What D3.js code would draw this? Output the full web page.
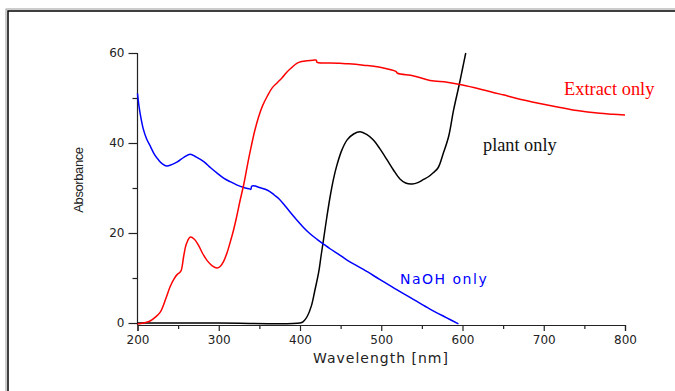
<!DOCTYPE html>
<html><head><meta charset="utf-8">
<script src="https://cdn.jsdelivr.net/npm/d3@7"></script>
<style>body{margin:0;background:#fff}svg{display:block}</style>
</head><body>
<svg id="c" width="675" height="391"></svg>
<script>
// ---- data ----
const xTicks = [200, 250, 300, 350, 400, 450, 500, 550, 600, 650, 700, 750, 800];
const yTicks = [0, 10, 20, 30, 40, 50, 60];
const yLabelTicks = [0, 20, 40, 60];

const extractNm  = [200,210,216,222,228,235,240,245,249,252,254,257,260,265,270,275,280,286,292,298,302,306,310,314,318,322,326,331,335,339,344,349,354,360,366,372,378,384,390,396,402,409,416,420,421,437,449,460,478,500,518,520,540,560,581,600,626,650,667,695,720,741,769,785,800];
const extractVal = [-0.2,0.1,0.5,1.3,2.4,5.5,8,9.8,10.8,11.2,11.8,15,17.5,19.1,18.6,17.3,15.5,13.8,12.7,12.2,12.6,13.7,15.5,17.9,20.5,23.6,27,31,34.8,38.4,42.5,45.8,48.3,50.5,52.3,53.4,54.5,55.8,56.8,57.7,58.1,58.3,58.4,58.4,57.9,57.8,57.7,57.6,57.3,56.8,55.9,55.5,54.9,53.9,53.5,52.9,51.8,50.7,49.9,48.8,47.9,47.2,46.6,46.4,46.2];

const naohNm  = [200,202,204,207,211,216,221,226,231,236,242,249,257,265,272,282,290,298,306,314,322,331,338,339.5,340.5,343,350,360,366,370,374,380,388,396,404,412,421,430,437,449,457,478,498,519,540,560,580,595];
const naohVal = [51,48,45.8,43.2,41,39.2,37.4,36.2,35.3,34.9,35.2,35.8,36.8,37.5,36.9,35.8,34.5,33.3,32.2,31.4,30.7,30.1,29.8,29.7,30.4,30.5,30.1,29.5,28.8,28.2,27.6,26.4,24.6,22.9,21.3,19.9,18.6,17.4,16.5,15.1,14.1,11.9,9.7,7.4,5.2,3.1,1.2,-0.2];

const plantNm  = [200,300,400,404,409,414,418,423,426,429,433,437,441,445,451,458,466,474,482,490,498,507,515,523,530,538,545,552,558,564,570,576,583,589,596,600,604];
const plantVal = [0,0,0,0.3,1.5,3.8,7,11.3,15,18.6,23.5,28,31.8,34.8,38.2,40.7,42,42.5,41.9,40.7,38.8,36.3,34,32,31.1,30.9,31.2,31.9,32.5,33.4,34.5,37.5,41.5,47.3,53,56.5,60];

const seriesNames = ["Extract only", "plant only", "NaOH only"];

// ---- chart ----
const svg = d3.select("#c");
const x = d3.scaleLinear().domain([200, 800]).range([137.5, 625]);
const y = d3.scaleLinear().domain([0, 60]).range([323, 53]);

// frame
svg.append("rect").attr("x", 6).attr("y", 9).attr("width", 700).attr("height", 420)
  .attr("fill", "none").attr("stroke", "#999").attr("stroke-width", 1);
svg.append("rect").attr("x", 8).attr("y", 11).attr("width", 700).attr("height", 420)
  .attr("fill", "none").attr("stroke", "#000").attr("stroke-width", 1.5);

// x axis
const xAxis = d3.axisBottom(x).tickValues(xTicks)
  .tickSize(6).tickPadding(4)
  .tickFormat(d => d % 100 === 0 ? d : "");
const gx = svg.append("g").attr("transform", "translate(0,325)").call(xAxis);
gx.select(".domain").attr("stroke", "#222").attr("stroke-width", 1.2);
gx.selectAll(".tick line").attr("stroke", "#222").attr("stroke-width", 1.2)
  .attr("y2", d => d % 100 === 0 ? 6 : 4);
gx.selectAll("text").attr("font-family", "DejaVu Sans").attr("font-size", 12)
  .attr("fill", "#222");

// y axis
const yAxis = d3.axisLeft(y).tickValues(yTicks).tickSize(8).tickPadding(5)
  .tickFormat(d => yLabelTicks.includes(d) ? d : "");
const gy = svg.append("g").attr("transform", "translate(137.5,0)").call(yAxis);
gy.select(".domain").attr("stroke", "#222").attr("stroke-width", 1.2)
  .attr("d", "M0," + y(60) + "V325");
gy.selectAll(".tick line").attr("stroke", "#222").attr("stroke-width", 1.2)
  .attr("x2", d => yLabelTicks.includes(d) ? -9 : -5);
gy.selectAll("text").attr("font-family", "DejaVu Sans").attr("font-size", 12)
  .attr("fill", "#222");

// axis titles
svg.append("text").attr("x", 381).attr("y", 363).attr("text-anchor", "middle")
  .attr("font-family", "DejaVu Sans").attr("font-size", 14).attr("letter-spacing", 1)
  .attr("fill", "#222").text("Wavelength [nm]");
svg.append("text").attr("transform", "translate(83,180) rotate(-90)")
  .attr("text-anchor", "middle").attr("font-family", "Liberation Sans")
  .attr("font-size", 13).attr("letter-spacing", -0.4).attr("fill", "#222").text("Absorbance");

// lines
const line = d3.line().x(d => x(d[0])).y(d => y(d[1])).curve(d3.curveCatmullRom.alpha(0.5));
const mk = (a, b) => a.map((v, i) => [v, b[i]]);
svg.append("path").datum(mk(plantNm, plantVal)).attr("d", line)
  .attr("fill", "none").attr("stroke", "#000").attr("stroke-width", 1.5);
svg.append("path").datum(mk(naohNm, naohVal)).attr("d", line)
  .attr("fill", "none").attr("stroke", "#0000ff").attr("stroke-width", 1.5);
svg.append("path").datum(mk(extractNm, extractVal)).attr("d", line)
  .attr("fill", "none").attr("stroke", "#ff0000").attr("stroke-width", 1.5);

// series labels
svg.append("text").attr("x", 564).attr("y", 95).attr("font-family", "Liberation Serif")
  .attr("font-size", 18.4).attr("fill", "#ff0000").text(seriesNames[0]);
svg.append("text").attr("x", 483).attr("y", 151).attr("font-family", "Liberation Serif")
  .attr("font-size", 18.3).attr("fill", "#111").text(seriesNames[1]);
svg.append("text").attr("x", 400).attr("y", 284).attr("font-family", "DejaVu Sans")
  .attr("font-size", 14).attr("letter-spacing", 1.5).attr("fill", "#0000ff").text(seriesNames[2]);
</script>
</body></html>
